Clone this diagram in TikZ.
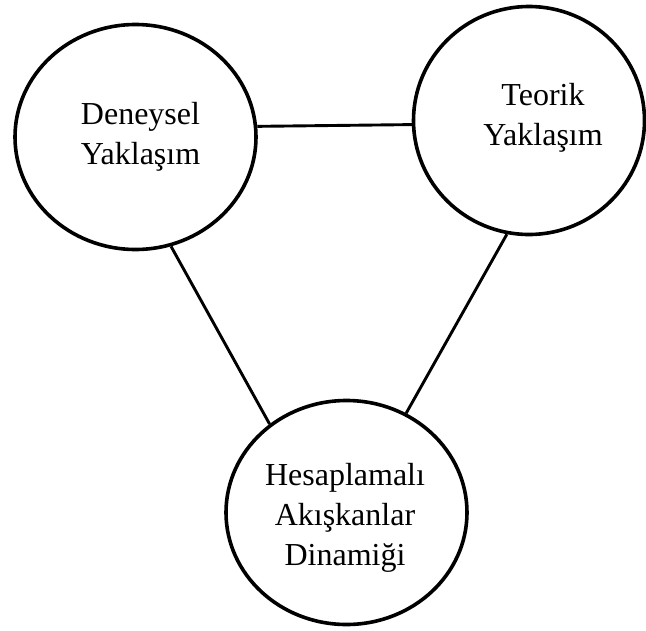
\documentclass[tikz,border=0pt]{standalone}
\usepackage{fontspec}
\setmainfont{Liberation Serif}
\usetikzlibrary{shapes.geometric}

\begin{document}
\begin{tikzpicture}[x=1pt,y=-1pt,
  main node/.style={ellipse,draw,line width=3.6pt,inner sep=0pt},
  label node/.style={align=center,inner sep=0pt,font=\fontsize{32}{40}\selectfont}]

\useasboundingbox (0,0) rectangle (646,630);

\node[main node,minimum width=241pt,minimum height=225pt] (den) at (135.5,137) {};
\node[main node,minimum width=231pt,minimum height=228pt] (teo) at (529,120.5) {};
\node[main node,minimum width=241pt,minimum height=224pt] (hes) at (346.5,512.5) {};

\node[label node] (dent) at (140.5,137) {Deneysel\\Yaklaşım};
\node[label node] (teot) at (543,118) {Teorik\\Yaklaşım};
\node[label node] (hest) at (345,517.5) {Hesaplamalı\\Akışkanlar\\Dinamiği};

\path[] (den.5.7) [-,line width=2.9pt] edge (teo.182.5);
\path[] (den.288) [-,line width=2.9pt] edge (hes.131.8);
\path[] (teo.259.4) [-,line width=2.9pt] edge (hes.59.8);
\end{tikzpicture}
\end{document}
